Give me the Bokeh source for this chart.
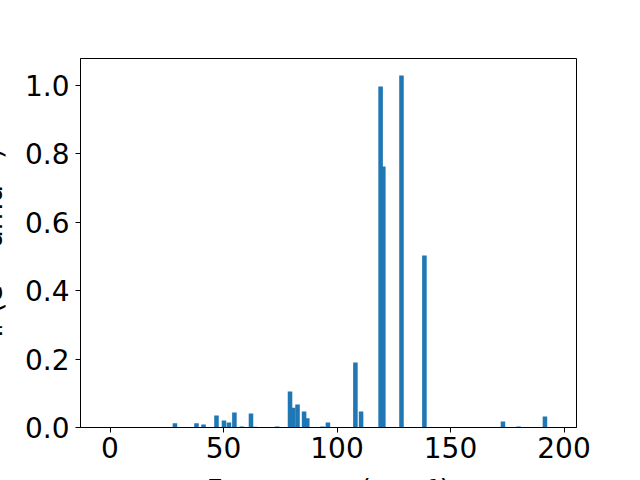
from bokeh.plotting import figure
from bokeh.models import Range1d, FixedTicker, NumeralTickFormatter, GlobalInlineStyleSheet
from bokeh.embed import file_html
from bokeh.resources import INLINE

# Data
frequencies = [28.6, 38.1, 41.2, 46.9, 50.2, 52.4, 54.8, 58.1, 62.1, 63.8,
               73.6, 79.3, 80.7, 82.6, 85.5, 86.9, 93.6, 96.0, 108.1, 110.6,
               119.2, 120.4, 128.4, 138.5, 173.1, 180.0, 191.6]
intensities = [0.0126, 0.0126, 0.0088, 0.035, 0.0205, 0.0146, 0.044, 0.003, 0.041, 0.002,
               0.003, 0.105, 0.058, 0.067, 0.047, 0.027, 0.003, 0.0146, 0.19, 0.047,
               0.997, 0.763, 1.029, 0.503, 0.0175, 0.003, 0.032]
x_ticks = [0, 50, 100, 150, 200]
y_ticks = [0.0, 0.2, 0.4, 0.6, 0.8, 1.0]
x_title = "Frequency (cm⁻¹)"
y_title = "Iᵣ (e²\u00a0\u00a0 amu⁻¹)"

FONT = "DejaVu Sans"
FS = "28px"

LEFT, RIGHT, TOP, BOTTOM = 110, 64, 58, 100
FRAME_W, FRAME_H = 496, 369

p = figure(width=LEFT + FRAME_W + RIGHT, height=TOP + FRAME_H + BOTTOM,
           output_backend="svg", toolbar_location=None,
           x_range=Range1d(-13, 205.5), y_range=Range1d(0, 1.079))
p.margin = (0, 0, 0, 80 - LEFT)
p.stylesheets = [GlobalInlineStyleSheet(css="html, body { overflow: hidden !important; }")]
p.min_border_left = LEFT
p.min_border_right = RIGHT
p.min_border_top = TOP
p.min_border_bottom = BOTTOM
p.border_fill_color = "white"
p.background_fill_color = "white"
p.outline_line_color = "black"
p.outline_line_width = 1
p.xgrid.visible = False
p.ygrid.visible = False

p.vbar(x=frequencies, top=intensities, width=2.0, bottom=0,
       fill_color="#1f77b4", line_color=None)

for ax in (p.xaxis[0], p.yaxis[0]):
    ax.major_label_text_font = FONT
    ax.major_label_text_font_size = FS
    ax.major_label_text_color = "black"
    ax.axis_label_text_font = FONT
    ax.axis_label_text_font_size = FS
    ax.axis_label_text_font_style = "normal"
    ax.axis_label_text_color = "black"
    ax.major_tick_in = 0
    ax.major_tick_out = 5
    ax.major_tick_line_color = "black"
    ax.major_tick_line_width = 1
    ax.minor_tick_line_color = None
    ax.axis_line_color = "black"
    ax.axis_line_width = 1

p.xaxis.ticker = FixedTicker(ticks=x_ticks)
p.yaxis.ticker = FixedTicker(ticks=y_ticks)
p.yaxis.formatter = NumeralTickFormatter(format="0.0")
p.xaxis.major_label_standoff = 4
p.yaxis.major_label_standoff = 6
p.xaxis.axis_label = x_title
p.yaxis.axis_label = y_title
p.xaxis.axis_label_standoff = 13
p.yaxis.axis_label_standoff = 13

open("out.html", "w").write(file_html(p, INLINE))
